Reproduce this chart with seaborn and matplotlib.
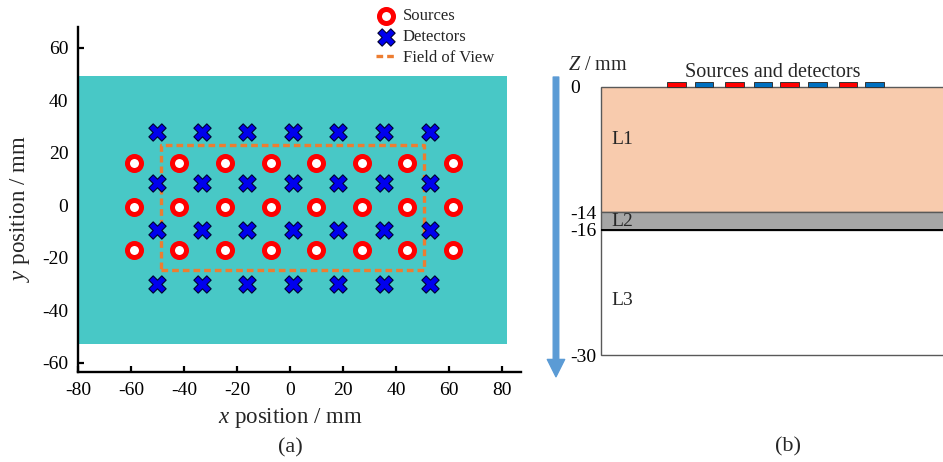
import numpy as np
import pandas as pd
import matplotlib
matplotlib.use("Agg")
import matplotlib.pyplot as plt
import seaborn as sns

# --- panel (a): probe layout in mm ---
source_x = [-59.0, -42.0, -24.5, -7.3, 9.8, 27.2, 44.3, 61.6]
source_y = [16.0, -0.5, -17.0]
detector_x = [-50.3, -33.3, -16.1, 1.2, 18.2, 35.6, 52.8]
detector_y = [28.0, 8.4, -9.5, -29.8]

# phantom surface and field of view (mm)
phantom_x = [-80.0, 82.0]
phantom_y = [-53.0, 49.3]
fov_x = [-48.7, 50.7]
fov_y = [-24.5, 23.0]

# --- panel (b): layered medium (depth in mm) ---
layer_names = ["L1", "L2", "L3"]
layer_top = [0, -14, -16]
layer_bottom = [-14, -16, -30]
depth_ticks = [0, -14, -16, -30]
probe_pos = [8.4, 11.5, 14.9, 18.1, 21.1, 24.2, 27.6, 30.6]
probe_kind = ["source", "detector"] * 4

sns.set_theme(style="ticks")
plt.rcParams["font.family"] = ["Liberation Serif", "DejaVu Serif"]
plt.rcParams["mathtext.fontset"] = "custom"
plt.rcParams["mathtext.rm"] = "Liberation Serif"
plt.rcParams["mathtext.it"] = "Liberation Serif:italic"
plt.rcParams["axes.unicode_minus"] = False

fig = plt.figure(figsize=(9.43, 4.62), dpi=100)
W, H = 943, 462

# ---------------- panel (a) ----------------
ax = fig.add_axes([78 / W, (H - 372) / H, 442.6 / W, 345 / H])
ax.set_xlim(-80, 87)
ax.set_ylim(-63.5, 68)

ax.fill_between(phantom_x, phantom_y[0], phantom_y[1], color="#48C8C6", lw=0, zorder=1)

src = pd.DataFrame([(x, y) for y in source_y for x in source_x], columns=["x", "y"])
det = pd.DataFrame([(x, y) for y in detector_y for x in detector_x], columns=["x", "y"])

sns.scatterplot(data=src, x="x", y="y", ax=ax, marker="o", s=102,
                facecolor="white", edgecolor="#FF0000", linewidth=3.6,
                label="Sources", zorder=4)
sns.scatterplot(data=det, x="x", y="y", ax=ax, marker="X", s=155,
                facecolor="#0000EE", edgecolor="#000030", linewidth=0.8,
                label="Detectors", zorder=5)

fx = [fov_x[0], fov_x[1], fov_x[1], fov_x[0], fov_x[0]]
fy = [fov_y[0], fov_y[0], fov_y[1], fov_y[1], fov_y[0]]
ax.plot(fx, fy, color="#ED7D31", lw=2.4, dashes=(2.0, 1.2), zorder=3,
        label="Field of View")

ax.set_xticks(np.arange(-80, 81, 20))
ax.set_yticks(np.arange(-60, 61, 20))
ax.tick_params(direction="in", length=4.5, width=1.6, labelsize=14, pad=7,
               colors="black")
for side in ["top", "right"]:
    ax.spines[side].set_visible(False)
for side in ["left", "bottom"]:
    ax.spines[side].set_linewidth(1.7)
    ax.spines[side].set_color("black")

ax.set_xlabel("$x$ position / mm", fontsize=16.5)
ax.set_ylabel("$y$ position / mm", fontsize=16.5)
ax.xaxis.set_label_coords(0.479, -0.10)
ax.yaxis.set_label_coords(-0.105, 0.472)

handles, labels = ax.get_legend_handles_labels()
if ax.get_legend() is not None:
    ax.get_legend().remove()
fig.legend(handles, labels, loc="upper left", bbox_to_anchor=(376 / W, 1 - 8 / H),
           frameon=False, fontsize=12, handlelength=1.15, handletextpad=0.45,
           labelspacing=0.3, borderpad=0, borderaxespad=0)

fig.text(290 / W, 1 - 447.5 / H, "(a)", ha="center", va="center", fontsize=16)

# ---------------- panel (b) ----------------
mm = 8.95  # pixels per mm in the schematic
ax2 = fig.add_axes([601 / W, (H - 355.3) / H, (W - 601) / W, (355.3 - 86.7) / H])
ax2.set_xlim(0, (W - 601) / mm)
ax2.set_ylim(-30, 0)

layer_colors = ["#F8CBAD", "#A6A6A6", "#FFFFFF"]
heights = [t - b for t, b in zip(layer_top, layer_bottom)]
ax2.bar(0, heights, bottom=layer_bottom, width=60, align="edge",
        color=layer_colors, edgecolor="#595959", linewidth=1.0, clip_on=False, zorder=1)
ax2.axhline(layer_bottom[1], color="black", lw=1.4, zorder=2)

probe_colors = {"source": "#FF0000", "detector": "#0070C0"}
ax2.bar(probe_pos, 0.5, bottom=0, width=2.1,
        color=[probe_colors[k] for k in probe_kind],
        edgecolor="#333333", linewidth=0.7, clip_on=False, zorder=3)

label_y = [-6.4, -15.6, -24.4]
for name, y in zip(layer_names, label_y):
    ax2.text(1.2, y, name, ha="left", va="baseline", fontsize=14, zorder=4)

ax2.text(19.2, 1.05, "Sources and detectors", ha="center", va="baseline",
         fontsize=14.5, clip_on=False)
ax2.text(-3.65, 1.87, "$Z$ / mm", ha="left", va="baseline", fontsize=14.5,
         clip_on=False)

ax2.annotate("", xy=(-5.03, -32.4), xytext=(-5.03, 1.08),
             arrowprops=dict(arrowstyle="simple,head_length=1.25,head_width=1.25,tail_width=0.4",
                             color="#5B9BD5", shrinkA=0, shrinkB=0, mutation_scale=10),
             annotation_clip=False)

ax2.set_yticks(depth_ticks)
ax2.set_yticklabels([str(t) for t in depth_ticks])
ax2.set_xticks([])
ax2.tick_params(axis="y", length=0, pad=22.3, labelsize=14, colors="black")
for lbl in ax2.get_yticklabels():
    lbl.set_horizontalalignment("left")
for s in ax2.spines.values():
    s.set_visible(False)
ax2.set_facecolor("none")

fig.text(788.3 / W, 1 - 447 / H, "(b)", ha="center", va="center", fontsize=16)

fig.savefig("out.png", dpi=100)
